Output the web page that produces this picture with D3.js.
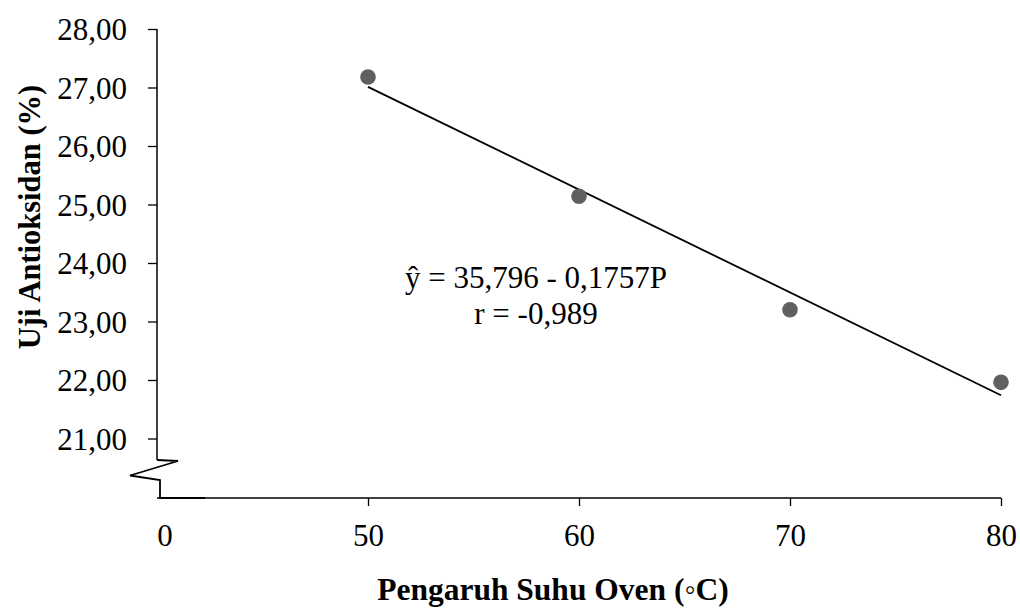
<!DOCTYPE html>
<html><head><meta charset="utf-8">
<script src="https://cdn.jsdelivr.net/npm/d3@7"></script>
<style>
html,body{margin:0;padding:0;background:#fff;}
text{font-family:"Liberation Serif","Times New Roman",serif;fill:#000;}
</style></head>
<body><svg id="c" width="1020" height="608"></svg>
<script>
const temps = [50, 60, 70, 80];
const antioksidan = [27.18, 25.14, 23.20, 21.96];
const yTicks = [21, 22, 23, 24, 25, 26, 27, 28];
const xTicks = [50, 60, 70, 80];
const intercept = 35.796, slope = -0.1757;
const eqLines = ["ŷ = 35,796 - 0,1757P", "r = -0,989"];
const xTitle = "Pengaruh Suhu Oven (◦C)";
const yTitle = "Uji Antioksidan (%)";

const svg = d3.select("#c");
const axisX0 = 157, axisY0 = 498;
const x = d3.scaleLinear().domain([50, 80]).range([368, 1001]);
const y = d3.scaleLinear().domain([21, 28]).range([438.5, 29]);
const fmt = d => d3.format(".2f")(d).replace(".", ",");
const FS = 31;

// Y axis
const gy = svg.append("g").attr("transform", `translate(${axisX0},0)`)
  .call(d3.axisLeft(y).tickValues(yTicks).tickFormat(fmt).tickSize(9).tickPadding(21));
gy.select(".domain").remove();
gy.selectAll("line").attr("stroke", "#000").attr("stroke-width", 1.3);
gy.selectAll("text").style("font-size", FS + "px").attr("dy", "0.34em").attr("x", -30);
svg.append("line").attr("x1", axisX0).attr("x2", axisX0).attr("y1", y(28)).attr("y2", 460)
  .attr("stroke", "#000").attr("stroke-width", 1.5);
// axis break
svg.append("path").attr("d", `M${axisX0},460 L178,461 L130,475.5 L160,480 L160,${axisY0} L205,${axisY0}`)
  .attr("fill", "none").attr("stroke", "#000").attr("stroke-width", 1.8);

// X axis
const gx = svg.append("g").attr("transform", `translate(0,${axisY0})`)
  .call(d3.axisBottom(x).tickValues(xTicks).tickFormat(d => d).tickSize(8).tickPadding(22));
gx.select(".domain").remove();
gx.selectAll("line").attr("stroke", "#000").attr("stroke-width", 1.3);
gx.selectAll("text").style("font-size", FS + "px").attr("dy", null).attr("y", 48);
svg.append("line").attr("x1", axisX0).attr("x2", x(80)).attr("y1", axisY0).attr("y2", axisY0)
  .attr("stroke", "#000").attr("stroke-width", 1.3);
svg.append("text").attr("x", 165).attr("y", axisY0 + 48).attr("text-anchor", "middle")
  .style("font-size", FS + "px").text("0");

// regression line
svg.append("line")
  .attr("x1", x(50)).attr("y1", y(intercept + slope * 50))
  .attr("x2", x(80)).attr("y2", y(intercept + slope * 80))
  .attr("stroke", "#000").attr("stroke-width", 1.8);

// points
svg.selectAll("circle.pt").data(temps).join("circle").attr("class", "pt")
  .attr("cx", (d) => x(d)).attr("cy", (d, i) => y(antioksidan[i])).attr("r", 7.8)
  .attr("fill", "#606060");

// equation
eqLines.forEach((t, i) => {
  svg.append("text").attr("text-anchor", "middle")
    .attr("x", 536).attr("y", 288 + i * 36)
    .style("font-size", FS + "px").text(t);
});

// titles
svg.append("text").attr("text-anchor", "middle")
  .attr("x", 553).attr("y", 600)
  .style("font-size", "31.5px").style("font-weight", "bold").text(xTitle);
svg.append("text").attr("text-anchor", "middle")
  .attr("transform", `translate(40,217) rotate(-90)`)
  .style("font-size", "30.5px").style("font-weight", "bold").text(yTitle);
</script></body></html>
